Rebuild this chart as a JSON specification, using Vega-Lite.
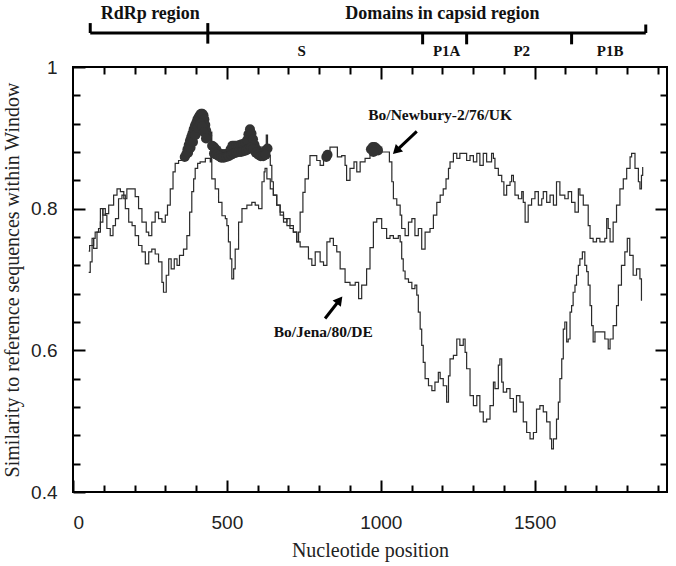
{
  "$schema": "https://vega.github.io/schema/vega-lite/v6.json",
  "width": 594,
  "height": 425,
  "autosize": {"type": "none"},
  "padding": {"left": 73, "top": 67, "right": 9, "bottom": 74},
  "background": "white",
  "config": {
    "view": {"stroke": "black", "strokeWidth": 2},
    "axis": {"domain": false, "grid": false, "tickColor": "black", "tickWidth": 2,
      "labelFont": "Liberation Sans", "labelFontSize": 19, "labelColor": "#222",
      "titleFont": "Liberation Serif", "titleFontSize": 20, "titleFontWeight": "normal", "titleColor": "#222"}
  },
  "datasets": {
    "N": [[51,0.740],[54,0.748],[62,0.758],[67,0.744],[78,0.767],[89,0.800],[97,0.791],[105,0.793],[116,0.805],[132,0.819],[143,0.828],[154,0.824],[165,0.814],[175,0.828],[192,0.828],[202,0.817],[213,0.800],[224,0.781],[238,0.767],[246,0.762],[256,0.781],[267,0.795],[278,0.786],[289,0.781],[300,0.791],[307,0.805],[316,0.828],[325,0.852],[332,0.864],[343,0.868],[357,0.871],[365,0.875],[375,0.889],[386,0.904],[397,0.918],[408,0.929],[419,0.934],[424,0.932],[430,0.918],[435,0.904],[440,0.899],[446,0.885],[454,0.889],[462,0.887],[478,0.882],[489,0.878],[500,0.878],[511,0.882],[516,0.889],[532,0.889],[543,0.892],[565,0.894],[571,0.906],[576,0.913],[586,0.904],[592,0.894],[600,0.887],[619,0.882],[626,0.885],[628,0.904],[632,0.889],[635,0.875],[641,0.861],[646,0.838],[651,0.819],[662,0.805],[673,0.795],[684,0.786],[695,0.776],[705,0.772],[716,0.767],[727,0.753],[733,0.767],[738,0.795],[747,0.823],[754,0.842],[765,0.861],[770,0.875],[781,0.875],[792,0.868],[803,0.861],[814,0.871],[827,0.875],[835,0.887],[852,0.887],[859,0.873],[873,0.875],[884,0.861],[889,0.840],[900,0.857],[913,0.866],[922,0.852],[933,0.866],[949,0.871],[965,0.887],[992,0.887],[1003,0.880],[1019,0.880],[1028,0.866],[1036,0.838],[1041,0.814],[1052,0.805],[1063,0.791],[1068,0.772],[1079,0.762],[1090,0.781],[1101,0.786],[1111,0.762],[1122,0.772],[1133,0.743],[1144,0.767],[1160,0.772],[1171,0.791],[1182,0.809],[1193,0.819],[1203,0.828],[1212,0.842],[1220,0.857],[1225,0.866],[1236,0.878],[1247,0.871],[1257,0.878],[1274,0.878],[1279,0.868],[1290,0.875],[1301,0.866],[1312,0.878],[1322,0.861],[1333,0.878],[1344,0.866],[1360,0.878],[1366,0.871],[1371,0.857],[1382,0.847],[1393,0.838],[1400,0.819],[1409,0.833],[1420,0.838],[1425,0.847],[1431,0.838],[1436,0.819],[1447,0.814],[1458,0.824],[1463,0.809],[1469,0.781],[1479,0.805],[1490,0.814],[1501,0.824],[1512,0.805],[1523,0.814],[1528,0.824],[1539,0.809],[1550,0.819],[1561,0.805],[1571,0.838],[1582,0.819],[1598,0.814],[1609,0.824],[1620,0.809],[1631,0.795],[1642,0.828],[1647,0.819],[1658,0.805],[1674,0.776],[1680,0.758],[1690,0.753],[1701,0.758],[1712,0.753],[1728,0.758],[1734,0.786],[1739,0.772],[1745,0.753],[1755,0.781],[1766,0.805],[1777,0.828],[1788,0.842],[1799,0.857],[1810,0.873],[1815,0.878],[1826,0.857],[1837,0.838],[1842,0.828],[1847,0.847],[1851,0.859]],
    "J": [[51,0.710],[56,0.725],[62,0.748],[67,0.758],[72,0.767],[83,0.772],[89,0.781],[97,0.800],[105,0.791],[110,0.772],[121,0.762],[130,0.776],[138,0.786],[148,0.814],[159,0.819],[170,0.800],[181,0.781],[192,0.776],[202,0.762],[213,0.748],[224,0.739],[235,0.722],[246,0.739],[256,0.743],[267,0.736],[278,0.725],[289,0.696],[294,0.682],[303,0.706],[311,0.729],[319,0.715],[329,0.729],[338,0.720],[346,0.734],[359,0.743],[370,0.762],[379,0.795],[386,0.824],[392,0.842],[397,0.857],[405,0.864],[413,0.866],[430,0.871],[440,0.871],[446,0.866],[448,0.908],[451,0.842],[462,0.828],[473,0.809],[484,0.790],[495,0.786],[500,0.776],[505,0.753],[511,0.729],[516,0.701],[522,0.715],[527,0.743],[538,0.781],[549,0.800],[565,0.805],[581,0.809],[592,0.805],[603,0.800],[614,0.838],[621,0.852],[624,0.857],[630,0.842],[641,0.828],[651,0.819],[662,0.805],[673,0.791],[684,0.781],[695,0.786],[705,0.776],[716,0.767],[727,0.753],[738,0.746],[754,0.746],[765,0.729],[776,0.720],[787,0.739],[803,0.725],[814,0.720],[825,0.753],[835,0.758],[846,0.748],[857,0.739],[868,0.715],[884,0.696],[900,0.692],[917,0.696],[928,0.673],[938,0.692],[954,0.715],[965,0.745],[976,0.781],[987,0.786],[1003,0.772],[1019,0.758],[1030,0.762],[1041,0.758],[1057,0.762],[1063,0.753],[1068,0.729],[1073,0.712],[1079,0.701],[1090,0.696],[1101,0.687],[1111,0.692],[1117,0.678],[1122,0.654],[1128,0.630],[1133,0.607],[1138,0.583],[1144,0.560],[1155,0.550],[1166,0.543],[1176,0.555],[1187,0.569],[1193,0.560],[1203,0.550],[1214,0.527],[1220,0.564],[1225,0.588],[1236,0.593],[1247,0.616],[1257,0.607],[1268,0.616],[1274,0.597],[1279,0.574],[1290,0.536],[1301,0.522],[1312,0.536],[1322,0.513],[1333,0.499],[1344,0.503],[1355,0.522],[1366,0.555],[1371,0.546],[1382,0.579],[1387,0.588],[1393,0.555],[1398,0.541],[1409,0.546],[1420,0.532],[1431,0.513],[1441,0.536],[1452,0.527],[1463,0.499],[1474,0.484],[1485,0.475],[1496,0.484],[1506,0.517],[1517,0.522],[1528,0.513],[1539,0.499],[1550,0.475],[1555,0.461],[1561,0.475],[1571,0.503],[1577,0.527],[1582,0.560],[1588,0.588],[1593,0.630],[1598,0.640],[1604,0.612],[1609,0.616],[1615,0.654],[1620,0.663],[1625,0.682],[1631,0.692],[1636,0.706],[1642,0.720],[1647,0.729],[1655,0.739],[1663,0.720],[1669,0.711],[1674,0.692],[1680,0.663],[1685,0.635],[1690,0.612],[1696,0.626],[1712,0.626],[1723,0.626],[1728,0.616],[1739,0.602],[1745,0.616],[1755,0.635],[1766,0.663],[1772,0.692],[1782,0.720],[1793,0.739],[1801,0.758],[1809,0.734],[1820,0.706],[1831,0.715],[1842,0.701],[1847,0.670]],
    "dots": [[363,0.873],[368,0.877],[372,0.884],[376,0.890],[380,0.896],[384,0.901],[388,0.906],[392,0.912],[396,0.917],[400,0.921],[404,0.926],[408,0.929],[412,0.932],[416,0.934],[420,0.934],[424,0.932],[427,0.926],[430,0.918],[433,0.910],[436,0.903],[374,0.879],[382,0.886],[390,0.894],[398,0.904],[406,0.914],[414,0.920],[420,0.916],[426,0.908],[432,0.899],[452,0.889],[458,0.887],[464,0.884],[470,0.880],[476,0.878],[482,0.877],[488,0.877],[494,0.877],[500,0.877],[506,0.879],[512,0.884],[518,0.889],[524,0.889],[530,0.889],[536,0.889],[542,0.890],[548,0.891],[554,0.891],[560,0.893],[566,0.897],[570,0.905],[575,0.912],[580,0.906],[585,0.898],[590,0.890],[596,0.884],[602,0.880],[608,0.878],[614,0.878],[620,0.879],[626,0.882],[632,0.885],[458,0.878],[466,0.876],[474,0.874],[482,0.872],[490,0.872],[498,0.873],[506,0.874],[514,0.876],[522,0.878],[530,0.879],[538,0.880],[546,0.880],[554,0.881],[562,0.882],[570,0.884],[578,0.886],[586,0.884],[594,0.879],[602,0.876],[610,0.874],[618,0.874],[626,0.876],[823,0.873],[827,0.876],[968,0.884],[974,0.887],[980,0.887],[986,0.885],[991,0.882],[976,0.880]]
  },
  "layer": [
    {
      "data": {"name": "N"},
      "transform": [{"calculate": "datum[0]", "as": "x"}, {"calculate": "datum[1]", "as": "y"}],
      "mark": {"type": "line", "interpolate": "step-after", "stroke": "#2b2b2b", "strokeWidth": 1.2},
      "encoding": {
        "x": {"field": "x", "type": "quantitative", "scale": {"domain": [0, 1930], "nice": false, "zero": false},
          "axis": {"orient": "bottom", "values": [0, 500, 1000, 1500], "format": "d", "tickSize": -12, "labelPadding": 33, "title": "Nucleotide position", "titlePadding": 8}},
        "y": {"field": "y", "type": "quantitative", "scale": {"domain": [0.4, 1], "nice": false, "zero": false},
          "axis": {"orient": "left", "values": [0.4, 0.6, 0.8, 1], "format": "~g", "tickSize": -12, "labelPadding": 28, "title": "Similarity to reference sequences within Window", "titlePadding": 8}}
      }
    },
    {
      "data": {"name": "J"},
      "transform": [{"calculate": "datum[0]", "as": "x"}, {"calculate": "datum[1]", "as": "y"}],
      "mark": {"type": "line", "interpolate": "step-after", "stroke": "#2b2b2b", "strokeWidth": 1.2},
      "encoding": {
        "x": {"field": "x", "type": "quantitative", "scale": {"domain": [0, 1930], "nice": false, "zero": false},
          "axis": {"orient": "bottom", "values": [100,200,300,400,600,700,800,900,1100,1200,1300,1400,1600,1700,1800,1900], "tickSize": -7, "labels": false, "title": null}},
        "y": {"field": "y", "type": "quantitative", "scale": {"domain": [0.4, 1], "nice": false, "zero": false},
          "axis": {"orient": "left", "values": [0.44,0.48,0.52,0.56,0.64,0.68,0.72,0.76,0.84,0.88,0.92,0.96], "tickSize": -7, "labels": false, "title": null}}
      }
    },
    {
      "data": {"name": "dots"},
      "transform": [{"calculate": "datum[0]", "as": "x"}, {"calculate": "datum[1]", "as": "y"}],
      "mark": {"type": "point", "shape": "circle", "filled": true, "size": 100, "color": "#333333", "opacity": 1},
      "encoding": {
        "x": {"field": "x", "type": "quantitative", "axis": {"orient": "top", "values": [500, 1000, 1500], "tickSize": -12, "labels": false, "title": null}},
        "y": {"field": "y", "type": "quantitative", "axis": {"orient": "right", "values": [0.6, 0.8], "tickSize": -12, "labels": false, "title": null}}
      }
    },
    {
      "data": {"values": [
        {"x": 56, "x2": 1861, "y": 1.048, "y2": 1.048},
        {"x": 56, "x2": 56, "y": 1.048, "y2": 1.062},
        {"x": 438, "x2": 438, "y": 1.062, "y2": 1.033},
        {"x": 1136, "x2": 1136, "y": 1.048, "y2": 1.032},
        {"x": 1279, "x2": 1279, "y": 1.048, "y2": 1.032},
        {"x": 1620, "x2": 1620, "y": 1.048, "y2": 1.032},
        {"x": 1861, "x2": 1861, "y": 1.048, "y2": 1.060}
      ]},
      "mark": {"type": "rule", "stroke": "black", "strokeWidth": 3},
      "encoding": {
        "x": {"field": "x", "type": "quantitative", "axis": {"orient": "top", "values": [100,200,300,400,600,700,800,900,1100,1200,1300,1400,1600,1700,1800,1900], "tickSize": -7, "labels": false, "title": null}},
        "x2": {"field": "x2"},
        "y": {"field": "y", "type": "quantitative", "axis": {"orient": "right", "values": [0.44,0.48,0.52,0.56,0.64,0.68,0.72,0.76,0.84,0.88,0.92,0.96], "tickSize": -7, "labels": false, "title": null}},
        "y2": {"field": "y2"}
      }
    },
    {
      "data": {"values": [
        {"x": 251, "y": 1.0754, "t": "RdRp region"},
        {"x": 1200, "y": 1.0754, "t": "Domains in capsid region"}
      ]},
      "mark": {"type": "text", "font": "Liberation Serif", "fontWeight": "bold", "fontSize": 18, "color": "#111", "baseline": "middle", "align": "center"},
      "encoding": {
        "x": {"field": "x", "type": "quantitative", "axis": null},
        "y": {"field": "y", "type": "quantitative", "axis": null},
        "text": {"field": "t"}
      }
    },
    {
      "data": {"values": [
        {"x": 743, "y": 1.0226, "t": "S"},
        {"x": 1214, "y": 1.0226, "t": "P1A"},
        {"x": 1458, "y": 1.0226, "t": "P2"},
        {"x": 1745, "y": 1.0226, "t": "P1B"}
      ]},
      "mark": {"type": "text", "font": "Liberation Serif", "fontWeight": "bold", "fontSize": 15, "color": "#111", "baseline": "middle", "align": "center"},
      "encoding": {
        "x": {"field": "x", "type": "quantitative", "axis": null},
        "y": {"field": "y", "type": "quantitative", "axis": null},
        "text": {"field": "t"}
      }
    },
    {
      "data": {"values": [
        {"x": 1193, "y": 0.932, "t": "Bo/Newbury-2/76/UK"},
        {"x": 813, "y": 0.626, "t": "Bo/Jena/80/DE"}
      ]},
      "mark": {"type": "text", "font": "Liberation Serif", "fontWeight": "bold", "fontSize": 15.5, "color": "#111", "baseline": "middle", "align": "center"},
      "encoding": {
        "x": {"field": "x", "type": "quantitative", "axis": null},
        "y": {"field": "y", "type": "quantitative", "axis": null},
        "text": {"field": "t"}
      }
    },
    {
      "data": {"values": [
        {"x": 1117, "y": 0.909, "x2": 1050, "y2": 0.8816},
        {"x": 819, "y": 0.645, "x2": 866, "y2": 0.671}
      ]},
      "mark": {"type": "rule", "stroke": "black", "strokeWidth": 3},
      "encoding": {
        "x": {"field": "x", "type": "quantitative", "axis": null},
        "x2": {"field": "x2"},
        "y": {"field": "y", "type": "quantitative", "axis": null},
        "y2": {"field": "y2"}
      }
    },
    {
      "data": {"values": [{"x": 1050, "y": 0.8816}]},
      "mark": {"type": "point", "shape": "triangle-up", "filled": true, "size": 110, "color": "black", "opacity": 1, "angle": 226},
      "encoding": {
        "x": {"field": "x", "type": "quantitative", "axis": null},
        "y": {"field": "y", "type": "quantitative", "axis": null}
      }
    },
    {
      "data": {"values": [{"x": 866, "y": 0.671}]},
      "mark": {"type": "point", "shape": "triangle-up", "filled": true, "size": 110, "color": "black", "opacity": 1, "angle": 38},
      "encoding": {
        "x": {"field": "x", "type": "quantitative", "axis": null},
        "y": {"field": "y", "type": "quantitative", "axis": null}
      }
    }
  ],
  "resolve": {"axis": {"x": "independent", "y": "independent"}}
}
